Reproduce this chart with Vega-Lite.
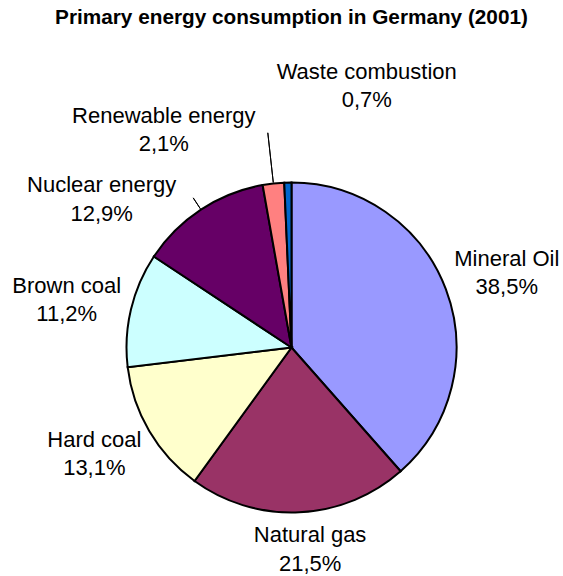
{
  "$schema": "https://vega.github.io/schema/vega-lite/v6.json",
  "width": 543,
  "height": 457,
  "autosize": {"type": "none"},
  "padding": {"left": 20, "right": 0, "top": 119, "bottom": 0},
  "background": "white",
  "title": {
    "text": "Primary energy consumption in Germany (2001)",
    "font": "Liberation Sans",
    "fontSize": 20.75,
    "fontWeight": "bold",
    "color": "black",
    "anchor": "middle",
    "offset": 32
  },
  "data": {
    "values": [
      {"source": "Mineral Oil", "share": 38.5, "ord": 1},
      {"source": "Natural gas", "share": 21.5, "ord": 2},
      {"source": "Hard coal", "share": 13.1, "ord": 3},
      {"source": "Brown coal", "share": 11.2, "ord": 4},
      {"source": "Nuclear energy", "share": 12.9, "ord": 5},
      {"source": "Renewable energy", "share": 2.1, "ord": 6},
      {"source": "Waste combustion", "share": 0.7, "ord": 7}
    ]
  },
  "transform": [
    {"calculate": "datum.source + '\\n' + replace(format(datum.share, '.1f'), '.', ',') + '%'", "as": "lbl"}
  ],
  "encoding": {
    "theta": {"field": "share", "type": "quantitative", "stack": true},
    "order": {"field": "ord", "type": "quantitative"}
  },
  "layer": [
    {
      "mark": {"type": "arc", "radius": 165, "stroke": "black", "strokeWidth": 2},
      "encoding": {
        "color": {
          "field": "source",
          "type": "nominal",
          "scale": {
            "domain": ["Mineral Oil", "Natural gas", "Hard coal", "Brown coal", "Nuclear energy", "Renewable energy", "Waste combustion"],
            "range": ["#9999FF", "#993366", "#FFFFCC", "#CCFFFF", "#660066", "#FF8080", "#0066CC"]
          },
          "legend": null
        }
      }
    },
    {
      "mark": {"type": "arc", "radius": 179, "radius2": 166, "padAngle": 3, "fillOpacity": 0, "stroke": "black", "strokeWidth": 1},
      "encoding": {
        "strokeOpacity": {"condition": {"test": "datum.source === 'Nuclear energy'", "value": 1}, "value": 0}
      }
    },
    {
      "mark": {"type": "arc", "radius": 216, "radius2": 166, "padAngle": 3, "fillOpacity": 0, "stroke": "black", "strokeWidth": 1},
      "encoding": {
        "strokeOpacity": {"condition": {"test": "datum.source === 'Renewable energy'", "value": 1}, "value": 0}
      }
    },
    {
      "mark": {"type": "text", "radius": 228, "dx": 2, "dy": -1},
      "encoding": {"text": {"condition": {"test": "datum.source === 'Mineral Oil'", "field": "lbl", "type": "nominal"}, "value": ""}}
    },
    {
      "mark": {"type": "text", "radius": 204, "dx": 9, "dy": -9},
      "encoding": {"text": {"condition": {"test": "datum.source === 'Natural gas'", "field": "lbl", "type": "nominal"}, "value": ""}}
    },
    {
      "mark": {"type": "text", "radius": 224, "dx": -4, "dy": -14},
      "encoding": {"text": {"condition": {"test": "datum.source === 'Hard coal'", "field": "lbl", "type": "nominal"}, "value": ""}}
    },
    {
      "mark": {"type": "text", "radius": 230, "dx": -1, "dy": -2},
      "encoding": {"text": {"condition": {"test": "datum.source === 'Brown coal'", "field": "lbl", "type": "nominal"}, "value": ""}}
    },
    {
      "mark": {"type": "text", "radius": 180, "dx": -91, "dy": -5},
      "encoding": {"text": {"condition": {"test": "datum.source === 'Nuclear energy'", "field": "lbl", "type": "nominal"}, "value": ""}}
    },
    {
      "mark": {"type": "text", "radius": 216, "dx": -104, "dy": -10},
      "encoding": {"text": {"condition": {"test": "datum.source === 'Renewable energy'", "field": "lbl", "type": "nominal"}, "value": ""}}
    },
    {
      "mark": {"type": "text", "radius": 262, "dx": 81, "dy": -7},
      "encoding": {"text": {"condition": {"test": "datum.source === 'Waste combustion'", "field": "lbl", "type": "nominal"}, "value": ""}}
    }
  ],
  "config": {
    "view": {"stroke": null},
    "text": {
      "font": "Liberation Sans",
      "fontSize": 22,
      "color": "black",
      "align": "center",
      "baseline": "alphabetic",
      "lineBreak": "\n",
      "lineHeight": 28.5
    }
  }
}
